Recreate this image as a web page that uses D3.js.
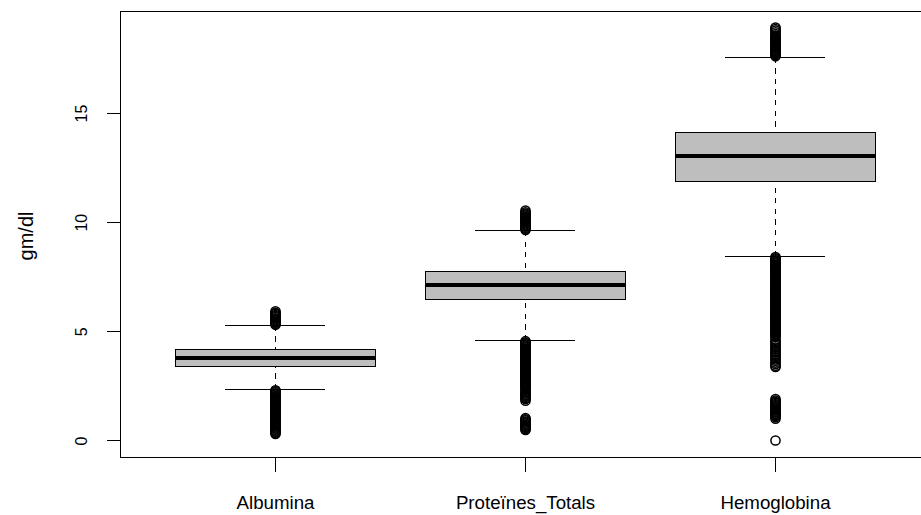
<!DOCTYPE html>
<html>
<head>
<meta charset="utf-8">
<script src="https://cdn.jsdelivr.net/npm/d3@7"></script>
<style>
  html, body { margin: 0; padding: 0; background: #fff; }
  svg { display: block; font-family: "Liberation Sans", Arial, sans-serif; }
  line, rect { shape-rendering: crispEdges; }
</style>
</head>
<body>
<svg id="chart" width="921" height="515"></svg>
<script>
// Laboratory values, one box per analyte
const categories = ["Albumina", "Proteïnes_Totals", "Hemoglobina"];
const whiskerLow  = [2.35, 4.59, 8.43];
const q1          = [3.41, 6.45, 11.86];
const median      = [3.79, 7.11, 13.04];
const q3          = [4.17, 7.72, 14.11];
const whiskerHigh = [5.26, 9.60, 17.54];

// Outlying observations beyond the whiskers
const albuminaOutliers = [
  5.30, 5.35, 5.40, 5.45, 5.50, 5.55, 5.60, 5.65, 5.70, 5.75, 5.80, 5.85, 5.92,
  2.30, 2.25, 2.20, 2.15, 2.10, 2.05, 2.00, 1.95, 1.90, 1.85, 1.80, 1.75, 1.70,
  1.65, 1.60, 1.55, 1.50, 1.45, 1.40, 1.35, 1.30, 1.25, 1.20, 1.15, 1.10, 1.05,
  1.00, 0.95, 0.90, 0.85, 0.80, 0.75, 0.70, 0.65, 0.60, 0.55, 0.50, 0.45, 0.40,
  0.35, 0.30
];
const proteinesOutliers = [
  9.65, 9.70, 9.75, 9.80, 9.85, 9.90, 9.95, 10.00, 10.05, 10.10, 10.15, 10.20,
  10.25, 10.30, 10.35, 10.40, 10.45, 10.53,
  4.55, 4.50, 4.45, 4.40, 4.35, 4.30, 4.25, 4.20, 4.15, 4.10, 4.05, 4.00, 3.95,
  3.90, 3.85, 3.80, 3.75, 3.70, 3.65, 3.60, 3.55, 3.50, 3.45, 3.40, 3.35, 3.30,
  3.25, 3.20, 3.15, 3.10, 3.05, 3.00, 2.95, 2.90, 2.85, 2.80, 2.75, 2.70, 2.65,
  2.60, 2.55, 2.50, 2.45, 2.40, 2.35, 2.28, 2.20, 2.15, 2.10, 2.05, 2.00, 1.95,
  1.90, 1.82,
  1.02, 0.97, 0.92, 0.87, 0.82, 0.77, 0.72, 0.67, 0.62, 0.57, 0.52, 0.48
];
const hemoglobinaOutliers = [
  17.60, 17.65, 17.70, 17.75, 17.80, 17.85, 17.90, 17.95, 18.00, 18.05, 18.10,
  18.15, 18.20, 18.25, 18.30, 18.35, 18.40, 18.45, 18.50, 18.55, 18.62, 18.70,
  18.78, 18.85, 18.92,
  8.40, 8.35, 8.30, 8.25, 8.20, 8.15, 8.10, 8.05, 8.00, 7.95, 7.90, 7.85, 7.80,
  7.75, 7.70, 7.65, 7.60, 7.55, 7.50, 7.45, 7.40, 7.35, 7.30, 7.25, 7.20, 7.15,
  7.10, 7.05, 7.00, 6.95, 6.90, 6.85, 6.80, 6.75, 6.70, 6.65, 6.60, 6.55, 6.50,
  6.45, 6.40, 6.35, 6.30, 6.25, 6.20, 6.15, 6.10, 6.05, 6.00, 5.95, 5.90, 5.85,
  5.80, 5.75, 5.70, 5.65, 5.60, 5.55, 5.50, 5.45, 5.40, 5.35, 5.30, 5.25, 5.20,
  5.15, 5.10, 5.05, 5.00, 4.95, 4.90, 4.85, 4.80, 4.75,
  4.62, 4.55, 4.48, 4.40, 4.33, 4.25, 4.18, 4.10, 4.03, 3.95, 3.88, 3.80, 3.72,
  3.65, 3.57, 3.50, 3.42, 3.37,
  1.90, 1.83, 1.77, 1.72, 1.67, 1.62, 1.57, 1.52, 1.47, 1.42, 1.37, 1.32, 1.27,
  1.22, 1.17, 1.12, 1.07, 1.00,
  0.00
];
const outliers = [albuminaOutliers, proteinesOutliers, hemoglobinaOutliers];
const yTicks = [0, 5, 10, 15];
const yLabel = "gm/dl";

const svg = d3.select("#chart");
const plot = { left: 120, top: 11, right: 930, bottom: 457 };

// Group positions 1..n, padded by 4% like a base-graphics boxplot
const n = categories.length;
const xLo = 0.5, xHi = n + 0.5, xPad = 0.04 * (xHi - xLo);
const x = d3.scaleLinear().domain([xLo - xPad, xHi + xPad]).range([plot.left, plot.right]);

const allValues = whiskerLow.concat(whiskerHigh, ...outliers);
const yMin = d3.min(allValues), yMax = d3.max(allValues);
const yPad = 0.04 * (yMax - yMin);
const y = d3.scaleLinear().domain([yMin - yPad, yMax + yPad]).range([plot.bottom, plot.top]);

const boxWidth = 0.8, capWidth = 0.4;
const idx = d3.range(n);
const cx = i => x(i + 1) + 0.5;

const g = svg.append("g");

// Dashed whiskers, drawn from whisker end towards the box
g.selectAll("line.wlo").data(idx).join("line")
  .attr("x1", cx).attr("x2", cx)
  .attr("y1", i => y(whiskerLow[i])).attr("y2", i => y(q1[i]))
  .attr("stroke", "#000").attr("stroke-width", 1).attr("stroke-dasharray", "5.3,5.3");
g.selectAll("line.whi").data(idx).join("line")
  .attr("x1", cx).attr("x2", cx)
  .attr("y1", i => y(whiskerHigh[i])).attr("y2", i => y(q3[i]))
  .attr("stroke", "#000").attr("stroke-width", 1).attr("stroke-dasharray", "5.3,5.3");

// Staples
[whiskerLow, whiskerHigh].forEach(arr => {
  g.append("g").selectAll("line").data(idx).join("line")
    .attr("x1", i => x(i + 1 - capWidth / 2)).attr("x2", i => x(i + 1 + capWidth / 2))
    .attr("y1", i => y(arr[i])).attr("y2", i => y(arr[i]))
    .attr("stroke", "#000").attr("stroke-width", 1);
});

// Boxes
g.append("g").selectAll("rect").data(idx).join("rect")
  .attr("x", i => x(i + 1 - boxWidth / 2))
  .attr("width", i => x(i + 1 + boxWidth / 2) - x(i + 1 - boxWidth / 2))
  .attr("y", i => y(q3[i]))
  .attr("height", i => y(q1[i]) - y(q3[i]))
  .attr("fill", "#bebebe").attr("stroke", "#000").attr("stroke-width", 1);

// Medians
g.append("g").selectAll("line").data(idx).join("line")
  .attr("x1", i => x(i + 1 - boxWidth / 2)).attr("x2", i => x(i + 1 + boxWidth / 2))
  .attr("y1", i => y(median[i])).attr("y2", i => y(median[i]))
  .attr("stroke", "#000").attr("stroke-width", 4);

// Outlier points (open circles)
const pts = outliers.flatMap((arr, i) => arr.map(v => ({ i, v })));
g.append("g").selectAll("circle").data(pts).join("circle")
  .attr("cx", d => cx(d.i)).attr("cy", d => y(d.v))
  .attr("r", 4.6)
  .attr("fill", "none").attr("stroke", "#000").attr("stroke-width", 1.5);

// Plot frame
svg.append("rect")
  .attr("x", plot.left + 0.5).attr("y", plot.top + 0.5)
  .attr("width", plot.right - plot.left).attr("height", plot.bottom - plot.top)
  .attr("fill", "none").attr("stroke", "#000").attr("stroke-width", 1);

// Y axis: ticks with labels parallel to the axis
const yAxis = svg.append("g")
  .attr("transform", `translate(${plot.left + 0.5},0)`)
  .call(d3.axisLeft(y).tickValues(yTicks).tickSize(14).tickFormat(d3.format("d")));
yAxis.select(".domain").remove();
yAxis.selectAll(".tick line").attr("stroke", "#000");
yAxis.selectAll(".tick text")
  .attr("transform", "rotate(-90)")
  .attr("x", 0).attr("y", -33.5).attr("dy", 0)
  .attr("text-anchor", "middle")
  .attr("fill", "#000")
  .style("font-size", "16px")
  .style("font-family", "'Liberation Sans', Arial, sans-serif");

// X axis: category names under each box
const xAxis = svg.append("g")
  .attr("transform", `translate(0,${plot.bottom + 0.5})`)
  .call(d3.axisBottom(x).tickValues(idx.map(i => i + 1)).tickSize(14)
    .tickFormat(d => categories[d - 1]));
xAxis.select(".domain").remove();
xAxis.selectAll(".tick line").attr("stroke", "#000");
xAxis.selectAll(".tick text")
  .attr("y", 51).attr("dy", 0)
  .attr("fill", "#000")
  .style("font-size", "18.7px")
  .style("font-family", "'Liberation Sans', Arial, sans-serif");

// Y axis title
svg.append("text")
  .attr("transform", `translate(33,${(plot.top + plot.bottom) / 2 + 2}) rotate(-90)`)
  .attr("text-anchor", "middle")
  .attr("fill", "#000")
  .style("font-size", "20px")
  .text(yLabel);
</script>
</body>
</html>
